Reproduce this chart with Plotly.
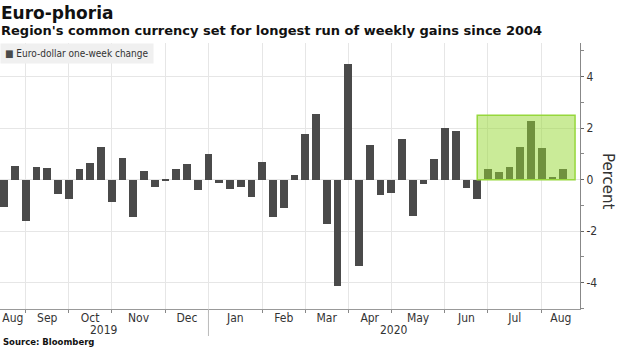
import plotly.graph_objects as go
import pandas as pd

# ---- data ----
weeks = pd.date_range("2019-08-23", periods=53, freq="W-FRI")
changes = [-1.06, 0.53, -1.60, 0.48, 0.44, -0.54, -0.76, 0.40, 0.64, 1.26,
           -0.87, 0.85, -1.46, 0.33, -0.28, -0.03, 0.42, 0.61, -0.41, 0.99,
           -0.14, -0.37, -0.27, -0.66, 0.67, -1.44, -1.11, 0.18, 1.77, 2.55,
           -1.73, -4.14, 4.49, -3.36, 1.36, -0.59, -0.50, 1.57, -1.40, -0.18,
           0.82, 2.00, 1.90, -0.34, -0.76, 0.42, 0.29, 0.51, 1.27, 2.28,
           1.22, 0.10, 0.40]
month_labels = ["Aug", "Sep", "Oct", "Nov", "Dec", "Jan", "Feb", "Mar",
                "Apr", "May", "Jun", "Jul", "Aug"]
year_labels = ["2019", "2020"]
y_ticks = [-4, -2, 0, 2, 4]
series_name = "Euro-dollar one-week change"
title = "Euro-phoria"
subtitle = "Region's common currency set for longest run of weekly gains since 2004"
source = "Source: Bloomberg"
streak_start = 44.0   # highlight box (index units)
streak_end = 53.1
streak_top = 2.5

# ---- layout helpers ----
idx = list(range(len(weeks)))
xr = [-0.39, 53.56]
yr = [-5.02, 5.31]
bounds = [i for i in range(1, len(weeks)) if weeks[i].month != weeks[i - 1].month]
edges = [xr[0]] + bounds + [xr[1]]
mids = [(edges[k] + edges[k + 1]) / 2 for k in range(len(edges) - 1)]
year_break = [i for i in range(1, len(weeks)) if weeks[i].year != weeks[i - 1].year][0]
year_mids = [(xr[0] + year_break) / 2, (year_break + xr[1]) / 2]

FONT = "DejaVu Sans Condensed"
BOLD = "DejaVu Sans"
PH = 266.0  # plot height px


def py(px):
    return (309 - px) / PH


fig = go.Figure()
fig.add_trace(go.Bar(
    x=idx, y=changes, width=0.72, marker=dict(color="#4a4a4a", line=dict(width=0)),
    name=series_name, hovertext=[d.strftime("%Y-%m-%d") for d in weeks],
    showlegend=False,
))
fig.add_trace(go.Scatter(x=mids, y=[0] * len(mids), xaxis="x2", mode="markers",
                         marker=dict(opacity=0), hoverinfo="skip", showlegend=False))

fig.update_layout(
    width=620, height=348,
    margin=dict(l=0, r=40, t=43, b=39),
    paper_bgcolor="white", plot_bgcolor="white",
    bargap=0,
    xaxis=dict(range=xr, tickvals=bounds, ticktext=[""] * len(bounds),
               ticks="outside", ticklen=3, tickcolor="#888", showgrid=True,
               gridcolor="#e6e6e6", gridwidth=1, showline=True, linecolor="#999",
               linewidth=1, zeroline=False),
    xaxis2=dict(range=xr, overlaying="x", anchor="y", side="bottom",
                tickvals=mids, ticktext=month_labels, ticks="", showgrid=False,
                showline=False, zeroline=False,
                tickfont=dict(family=FONT, size=12, color="#333")),
    yaxis=dict(range=yr, side="right", tickvals=y_ticks,
               ticktext=[str(v) for v in y_ticks],
               ticks="outside", ticklen=3, tickcolor="#666",
               minor=dict(dtick=1, ticks="outside", ticklen=3, tickcolor="#888",
                          showgrid=False),
               showgrid=True, gridcolor="#e6e6e6", zeroline=False,
               showline=True, linecolor="#888", linewidth=1,
               tickfont=dict(family=FONT, size=12, color="#333")),
)

# highlight box
fig.add_shape(type="rect", xref="x", yref="y", x0=streak_start, x1=streak_end,
              y0=0, y1=streak_top, fillcolor="rgba(150,215,50,0.5)",
              line=dict(color="rgb(150,215,60)", width=1.5), layer="above")
# year separator
fig.add_shape(type="line", xref="x", yref="paper", x0=year_break, x1=year_break,
              y0=0, y1=py(336), line=dict(color="#bbb", width=1))

ann = []
ann.append(dict(text=title, x=0, y=py(13), xref="paper", yref="paper",
                xanchor="left", yanchor="middle", showarrow=False, xshift=-1,
                font=dict(family=BOLD, size=17, color="#111", weight="bold")))
ann.append(dict(text=subtitle, x=0, y=py(31), xref="paper", yref="paper",
                xanchor="left", yanchor="middle", showarrow=False, xshift=-1,
                font=dict(family=BOLD, size=13, color="#111", weight="bold")))
ann.append(dict(text=source, x=0, y=py(342), xref="paper", yref="paper",
                xanchor="left", yanchor="middle", showarrow=False, xshift=1,
                font=dict(family=BOLD, size=8.5, color="#111", weight="bold")))
for lab, xm in zip(year_labels, year_mids):
    ann.append(dict(text=lab, x=xm, y=py(330), xref="x", yref="paper",
                    xanchor="center", yanchor="middle", showarrow=False,
                    font=dict(family=FONT, size=12, color="#333")))
ann.append(dict(text="Percent", x=1, y=py(181), xref="paper", yref="paper",
                xanchor="center", yanchor="middle", xshift=28, textangle=90,
                showarrow=False, font=dict(family="DejaVu Sans", size=15, color="#333")))
ann.append(dict(text="<span style='color:#4a4a4a'>■</span> " + series_name,
                x=0, y=1, xref="paper", yref="paper", xanchor="left", yanchor="top",
                showarrow=False, bgcolor="#f0f0f0", borderpad=4,
                font=dict(family=FONT, size=10, color="#333")))
fig.update_layout(annotations=ann)

fig.write_html("out.html")
